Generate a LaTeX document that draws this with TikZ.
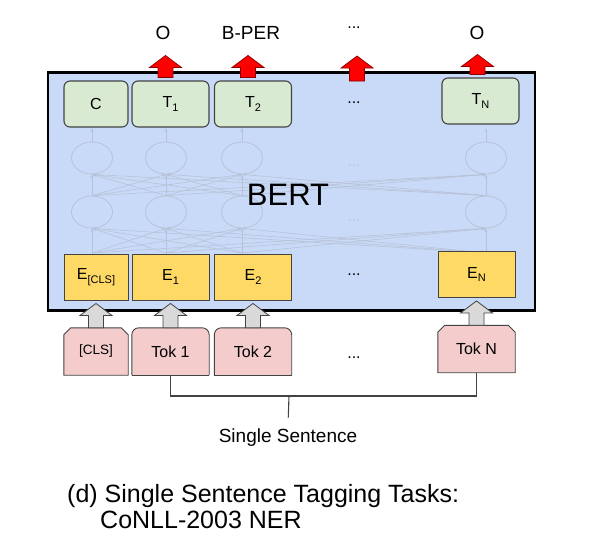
\documentclass[tikz,border=0pt]{standalone}
\usepackage{fontspec}
\setmainfont{Liberation Sans}
\usepackage{xcolor}
\usetikzlibrary{arrows.meta,positioning,calc,shapes.geometric,backgrounds}

\definecolor{bertblue}{HTML}{C9DAF8}
\definecolor{tgreen}{HTML}{D9EAD3}
\definecolor{eyellow}{HTML}{FFD966}
\definecolor{tokpink}{HTML}{F4CCCC}
\definecolor{boxline}{HTML}{434343}
\definecolor{faintline}{HTML}{B6C2D7}
\definecolor{arrowgray}{HTML}{D9D9D9}

\newcommand{\tsub}[1]{\raisebox{-0.45ex}{\fontsize{11}{11}\selectfont #1}}
% block arrow pointing up, from #2 (tail) to #3 (tip)
\newcommand{\blockarrow}[3]{%
  \draw[#1] let \p1=(#2), \p2=(#3) in
    (\x1-7.5pt,\y1) -- (\x1-7.5pt,\y2-12pt) -- (\x1-16pt,\y2-12pt) -- (\x1,\y2)
    -- (\x1+16pt,\y2-12pt) -- (\x1+7.5pt,\y2-12pt) -- (\x1+7.5pt,\y1) -- cycle;}

\tikzset{
  bertbox/.style={draw=black,fill=bertblue,line width=2.6pt,minimum width=487pt,minimum height=238pt},
  neuron/.style={ellipse,draw=faintline,line width=0.8pt,minimum width=41pt,minimum height=32pt,inner sep=0pt},
  faint/.style={draw=faintline,line width=0.6pt,-{Stealth[length=4pt,width=3pt]}},
  faintdots/.style={text=faintline,font=\fontsize{14}{14}\selectfont},
  outbox/.style={draw=boxline,fill=tgreen,rounded corners=6pt,line width=1.1pt,minimum width=77pt,minimum height=46pt,font=\fontsize{16}{16}\selectfont},
  embbox/.style={draw=boxline,fill=eyellow,line width=0.9pt,minimum width=77pt,minimum height=46pt,font=\fontsize{16}{16}\selectfont},
  tokbox/.style={minimum width=77pt,minimum height=47pt,inner sep=0pt,font=\fontsize{16}{16}\selectfont},
  tokshape/.style={draw=boxline,fill=tokpink,line width=0.9pt},
  redarrow/.style={draw=red!55!black,fill=red,line width=0.7pt},
  grayarrow/.style={draw=boxline,fill=arrowgray,line width=0.8pt},
  plain/.style={font=\fontsize{16}{16}\selectfont},
  lbl/.style={font=\fontsize{19}{19}\selectfont},
  bracket/.style={draw=boxline,line width=1.1pt},
  capt/.style={font=\fontsize{25}{25}\selectfont,inner sep=0pt}
}

\begin{document}
\begin{tikzpicture}[x=1pt,y=-1pt,>=Stealth]
\useasboundingbox (0,0) rectangle (605,552);

% encoder
\node[bertbox] (bert) at (291.5,191.5) {};

% hidden layers
\foreach \x/\n in {92/a,166/b,242/c,486/d}{
  \node[neuron] (hi\n) at (\x,158) {};
  \node[neuron] (lo\n) at (\x,212) {};
  \coordinate (in\n) at (\x,253);
  \coordinate (out\n) at (\x,128);
}
\foreach \i in {a,b,c,d}{
  \draw[faint] (hi\i.north) -- (out\i);
  \foreach \j in {a,b,c,d}{
    \draw[faint] (lo\i.north) -- (hi\j.south);
    \draw[faint] (in\i) -- (lo\j.south);
  }
}
\node[faintdots] (hdots1) at (354,166) {...};
\node[faintdots] (hdots2) at (354,221) {...};
\node[font=\fontsize{31}{31}\selectfont] (bertlbl) at (288,195) {BERT};

% output row
\node[outbox,minimum width=64pt] (c) at (96,104) {C};
\node[outbox] (t1) at (170.5,104) {T\tsub{1}};
\node[outbox] (t2) at (253,104) {T\tsub{2}};
\node[plain] (tdots) at (354,103) {...};
\node[outbox] (tn) at (480.5,101) {T\tsub{N}};

% embedding row
\node[embbox,minimum width=64pt] (ecls) at (96,277) {E\tsub{[CLS]}};
\node[embbox] (e1) at (170.5,277) {E\tsub{1}};
\node[embbox] (e2) at (253,277) {E\tsub{2}};
\node[plain] (edots) at (354,275) {...};
\node[embbox] (en) at (476.5,274.5) {E\tsub{N}};

% input tokens
\node[tokbox,minimum width=64pt,font=\fontsize{13.5}{13.5}\selectfont] (tokcls) at (96,351.5) {[CLS]};
\node[tokbox] (tok1) at (170.5,351.5) {Tok 1};
\node[tokbox] (tok2) at (253,351.5) {Tok 2};
\node[plain] (tokdots) at (354,358) {...};
\node[tokbox] (tokn) at (476.5,349) {Tok N};

\begin{scope}[on background layer]
\foreach \t in {tokcls,tokn}{
  \filldraw[tokshape] (\t.south west) -- ([yshift=-7pt]\t.north west) -- ([xshift=7pt]\t.north west)
    -- ([xshift=-7pt]\t.north east) -- ([yshift=-7pt]\t.north east) -- (\t.south east) -- cycle;
}
\foreach \t in {tok1,tok2}{
  \filldraw[tokshape,rounded corners=7pt] (\t.south west) -- (\t.north west) -- (\t.north east) -- (\t.south east);
  \draw[tokshape] (\t.south west) -- (\t.south east);
}
\end{scope}

% arrows
\blockarrow{grayarrow}{tokcls.north}{$(ecls.south)+(0,3)$}
\blockarrow{grayarrow}{tok1.north}{$(e1.south)+(0,3)$}
\blockarrow{grayarrow}{tok2.north}{$(e2.south)+(0,3)$}
\blockarrow{grayarrow}{tokn.north}{$(en.south)+(0,3)$}

\coordinate (midtop) at (357,81);
\blockarrow{redarrow}{$(t1.north)+(-5,-3)$}{$(t1.north)+(-5,-25)$}
\blockarrow{redarrow}{$(t2.north)+(-5,-3)$}{$(t2.north)+(-5,-25)$}
\blockarrow{redarrow}{midtop}{$(midtop)+(0,-25)$}
\blockarrow{redarrow}{$(tn.north)+(-3,-3)$}{$(tn.north)+(-3,-23)$}

% labels
\node[lbl] (y1) at (163,33) {O};
\node[lbl] (y2) at (251,33) {B-PER};
\node[plain] (ydots) at (354,28) {...};
\node[lbl] (yn) at (477,33) {O};

% sentence
\coordinate (join) at (289,396);
\draw[bracket] (tok1.south) |- (join) -| (tokn.south);
\node[lbl] (sent) at (288,438) {Single Sentence};
\draw[bracket,shorten >=8pt] (join) -- (sent.north);

% caption
\node[capt,anchor=base west] (cap1) at (67,502) {(d) Single Sentence Tagging Tasks:};
\node[capt,anchor=base west] (cap2) at (100,528) {CoNLL-2003 NER};
\end{tikzpicture}
\end{document}
